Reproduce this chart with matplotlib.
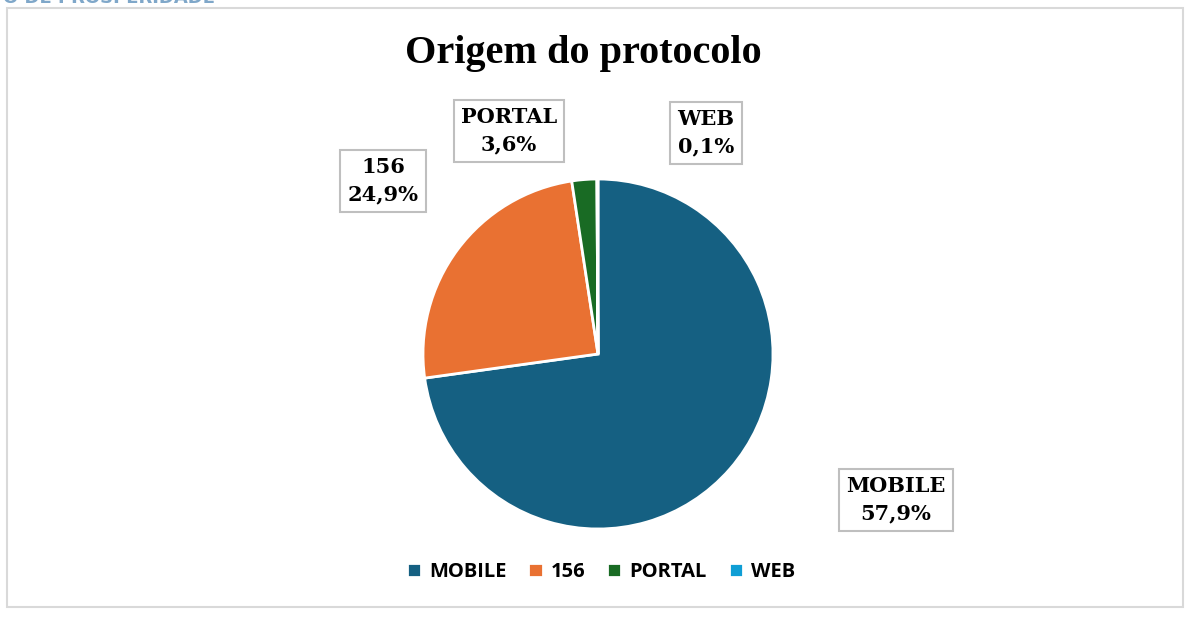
import matplotlib.pyplot as plt
from matplotlib.patches import Rectangle

# slice sizes as drawn, and the label texts shown on the chart
categories = ['MOBILE', '156', 'PORTAL', 'WEB']
slice_values = [72.8, 24.8, 2.3, 0.1]
label_pcts = ['57,9%', '24,9%', '3,6%', '0,1%']
colors = ['#156082', '#E97132', '#196B24', '#0F9ED5']

W, H = 1192, 618
fig = plt.figure(figsize=(W / 100, H / 100), dpi=100)

# outer chart border
fig.patches.append(Rectangle((7 / W, 1 - 607 / H), 1176 / W, 599 / H,
                             transform=fig.transFigure, fill=False,
                             edgecolor='#d9d9d9', linewidth=1.5))

# cropped header text at very top
fig.text(3 / W, 1 + 2 / H, 'O DE PROSPERIDADE', color='#7fa7c9', fontsize=13,
         fontweight='bold', family='DejaVu Sans', va='center', ha='left')

fig.text(583 / W, 1 - 54 / H, 'Origem do protocolo', ha='center', va='center',
         fontsize=29, fontweight='bold', family='Liberation Serif')

cx, cy, r = 598, 354, 175
ax = fig.add_axes([(cx - r) / W, (H - cy - r) / H, 2 * r / W, 2 * r / H])
wedges, _ = ax.pie(slice_values, colors=colors, startangle=90, counterclock=False,
                   wedgeprops=dict(edgecolor='white', linewidth=2))
ax.set_xlim(-1, 1)
ax.set_ylim(-1, 1)
ax.axis('off')

# data label boxes (pixel centres)
label_pos = [(896, 500), (383, 181), (509, 131), (706, 133)]
for cat, pct, (px, py) in zip(categories, label_pcts, label_pos):
    fig.text(px / W, 1 - py / H, cat + '\n' + pct, ha='center', va='center',
             fontsize=15, fontweight='bold', family='DejaVu Serif', linespacing=1.45,
             bbox=dict(boxstyle='square,pad=0.35', facecolor='white',
                       edgecolor='#bfbfbf', linewidth=1.5))

fig.legend(wedges, categories, loc='center', bbox_to_anchor=(601 / W, 1 - 572 / H),
           ncol=4, frameon=False, handlelength=0.7, handleheight=0.7,
           handletextpad=0.4, columnspacing=1.1,
           prop=dict(family='Open Sans', weight='bold', size=14.5))

fig.savefig('out.png', dpi=100)
